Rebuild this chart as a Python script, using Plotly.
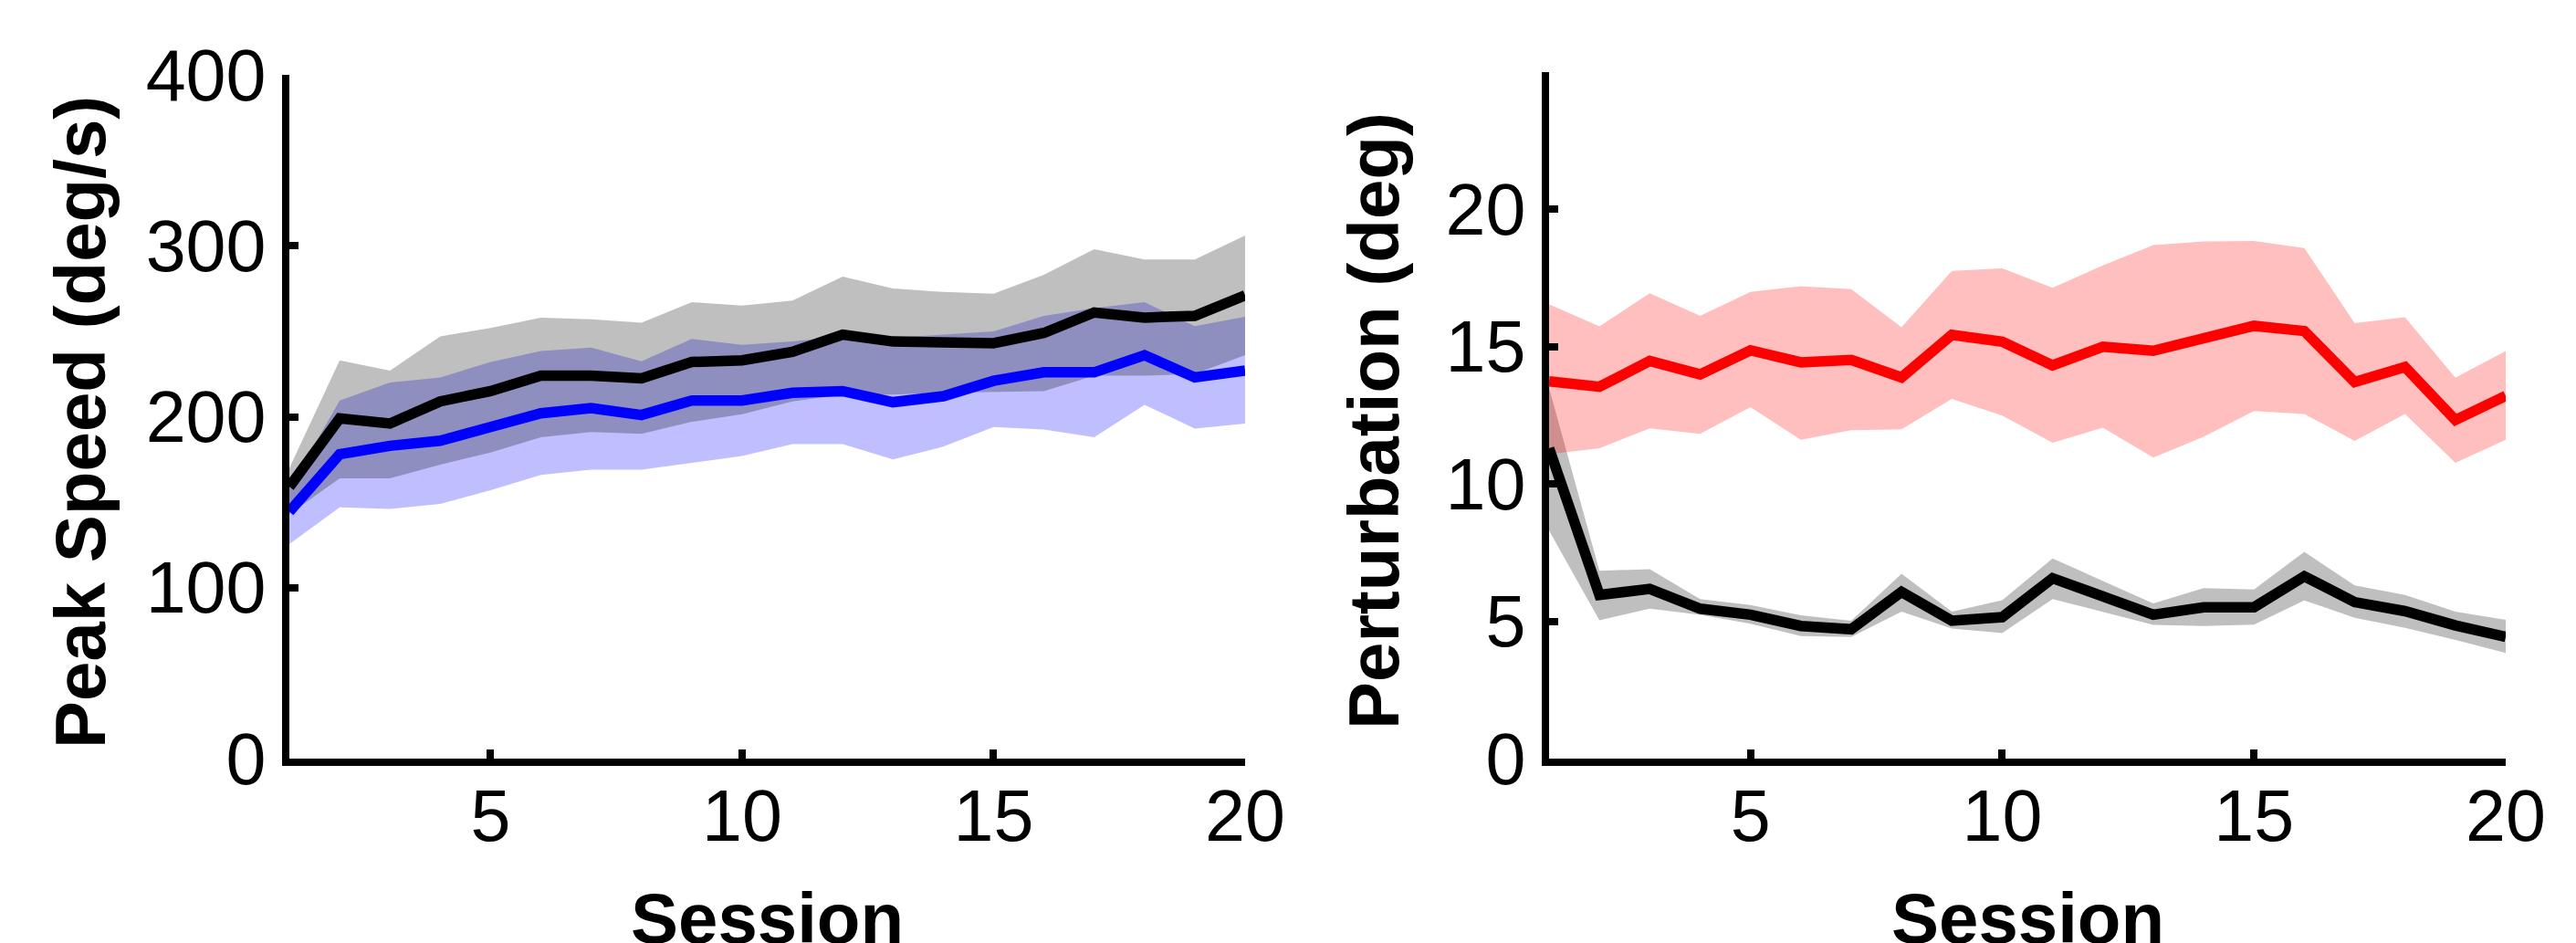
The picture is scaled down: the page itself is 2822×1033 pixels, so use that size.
import plotly.graph_objects as go

# ---------------- data ----------------
sessions = list(range(1, 21))

# Left panel: Peak Speed (deg/s)
speed_black_mean = [159, 199, 196, 209, 215, 224, 224, 222.5, 232, 233, 238, 248, 244, 243, 243, 249, 261, 258, 259, 271]
speed_black_upper = [170, 233, 227, 247, 252, 258, 257, 255, 267, 265, 268, 282, 275, 273, 272, 283, 298, 292, 292, 306]
speed_black_lower = [143, 164, 164, 172, 179, 188, 191, 190, 197, 201.5, 209, 213, 213, 214, 214.5, 215, 224, 224, 225, 236]
speed_blue_mean = [144.5, 178, 183, 186, 194, 202, 205, 201, 209.5, 209.5, 214, 215, 208.5, 212, 221, 226, 226, 236, 223, 227]
speed_blue_upper = [158, 209.5, 220, 223, 232, 238.5, 240.5, 232.5, 245.5, 242, 244, 247, 246.5, 248, 250, 259, 263.5, 267, 253, 258.5]
speed_blue_lower = [125.5, 147, 146, 149, 157, 166, 169, 169, 173, 177, 184, 184, 175, 182.5, 194, 192.5, 188, 207, 193, 196]

# Right panel: Perturbation (deg)
pert_black_mean = [11.3, 5.96, 6.18, 5.46, 5.24, 4.83, 4.71, 6.07, 5.02, 5.15, 6.57, 5.90, 5.24, 5.51, 5.51, 6.64, 5.70, 5.37, 4.85, 4.43]
pert_black_upper = [13.5, 6.84, 6.90, 5.81, 5.59, 5.22, 5.02, 6.73, 5.35, 5.77, 7.29, 6.46, 5.65, 6.21, 6.16, 7.53, 6.31, 5.96, 5.35, 5.05]
pert_black_lower = [8.3, 5.04, 5.46, 5.24, 4.91, 4.46, 4.43, 5.35, 4.74, 4.57, 5.81, 5.35, 4.87, 4.83, 4.88, 5.76, 5.13, 4.76, 4.32, 3.85]
pert_red_mean = [13.74, 13.54, 14.48, 13.99, 14.87, 14.43, 14.52, 13.88, 15.43, 15.18, 14.32, 15.0, 14.85, 15.35, 15.76, 15.57, 13.71, 14.26, 12.33, 13.21]
pert_red_upper = [16.55, 15.74, 16.95, 16.12, 17.0, 17.2, 17.1, 15.71, 17.76, 17.85, 17.15, 17.96, 18.7, 18.83, 18.85, 18.59, 15.86, 16.07, 13.87, 14.84]
pert_red_lower = [11.09, 11.30, 12.03, 11.83, 12.80, 11.61, 11.96, 11.99, 13.10, 12.49, 11.50, 12.05, 10.96, 11.72, 12.66, 12.55, 11.57, 12.55, 10.77, 11.61]

x_ticks = [5, 10, 15, 20]
speed_ticks = [0, 100, 200, 300, 400]
pert_ticks = [0, 5, 10, 15, 20]

# ---------------- figure ----------------
W, H = 2822, 1033
FONT = "Arial, Liberation Sans, Helvetica, sans-serif"
fig = go.Figure()


def band(x, upper, lower, color, xa, ya):
    fig.add_trace(go.Scatter(
        x=list(x) + list(x)[::-1],
        y=list(upper) + list(lower)[::-1],
        fill="toself", fillcolor=color, mode="lines",
        line=dict(width=0, color="rgba(0,0,0,0)"),
        hoverinfo="skip", showlegend=False, xaxis=xa, yaxis=ya))


def line(x, y, color, xa, ya):
    fig.add_trace(go.Scatter(
        x=x, y=y, mode="lines", line=dict(color=color, width=11.5),
        showlegend=False, xaxis=xa, yaxis=ya, cliponaxis=False))


# left panel
band(sessions, speed_blue_upper, speed_blue_lower, "rgba(0,0,255,0.25)", "x", "y")
band(sessions, speed_black_upper, speed_black_lower, "rgba(0,0,0,0.25)", "x", "y")
line(sessions, speed_black_mean, "black", "x", "y")
line(sessions, speed_blue_mean, "#0000FF", "x", "y")

# right panel
band(sessions, pert_black_upper, pert_black_lower, "rgba(0,0,0,0.25)", "x2", "y2")
band(sessions, pert_red_upper, pert_red_lower, "rgba(255,0,0,0.25)", "x2", "y2")
line(sessions, pert_red_mean, "#FF0000", "x2", "y2")
line(sessions, pert_black_mean, "black", "x2", "y2")

axis_common = dict(
    showline=True, linewidth=7.5, linecolor="black", mirror=False,
    ticks="inside", ticklen=10, tickwidth=8, tickcolor="black",
    showgrid=False, zeroline=False, automargin=False,
    tickfont=dict(family=FONT, size=79, color="black"),
)

fig.update_layout(
    width=W, height=H,
    margin=dict(l=0, r=0, t=0, b=0, autoexpand=False),
    paper_bgcolor="white", plot_bgcolor="white",
    showlegend=False,
    xaxis=dict(domain=[317 / W, 1364 / W], range=[1, 20], tickvals=x_ticks,
               anchor="y", ticklabelstandoff=-13, **axis_common),
    yaxis=dict(domain=[1 - 831 / H, 1 - 82 / H], range=[0, 400], tickvals=speed_ticks,
               anchor="x", ticklabelstandoff=2, **axis_common),
    xaxis2=dict(domain=[1697 / W, 2745 / W], range=[1, 20], tickvals=x_ticks,
                anchor="y2", ticklabelstandoff=-13, **axis_common),
    yaxis2=dict(domain=[1 - 831 / H, 1 - 79 / H], range=[0, 25], tickvals=pert_ticks,
                anchor="x2", ticklabelstandoff=2, **axis_common),
)

title_font = dict(family=FONT, size=78, color="black")
annos = [
    dict(text="<b>Peak Speed (deg/s)</b>", x=88 / W, y=1 - 463 / H, textangle=-90),
    dict(text="<b>Perturbation (deg)</b>", x=1505 / W, y=1 - 461 / H, textangle=-90),
    dict(text="<b>Session</b>", x=840 / W, y=1 - 1006 / H, textangle=0),
    dict(text="<b>Session</b>", x=2221 / W, y=1 - 1006 / H, textangle=0),
]
for a in annos:
    fig.add_annotation(xref="paper", yref="paper", xanchor="center", yanchor="middle",
                       showarrow=False, font=title_font, **a)

fig.write_html("out.html")
